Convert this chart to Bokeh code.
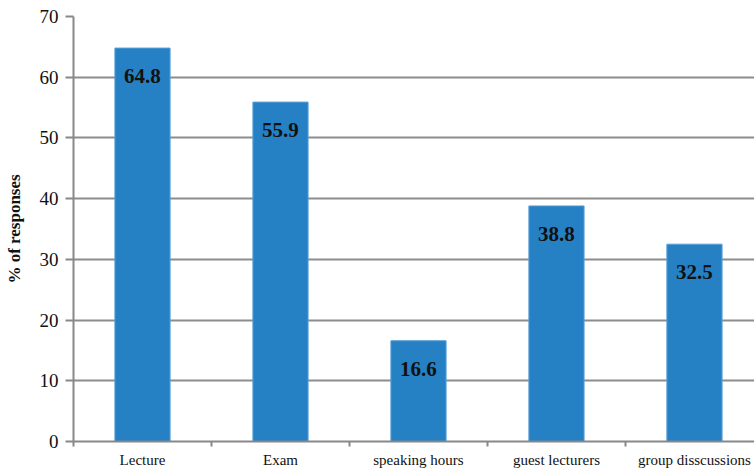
from bokeh.plotting import figure
from bokeh.models import FixedTicker, ColumnDataSource, LabelSet
from bokeh.embed import file_html
from bokeh.resources import INLINE

categories = ["Lecture", "Exam", "speaking hours", "guest lecturers", "group disscussions"]
values = [64.8, 55.9, 16.6, 38.8, 32.5]
y_ticks = [0, 10, 20, 30, 40, 50, 60, 70]

xs = [i + 0.5 for i in range(len(categories))]
src = ColumnDataSource(dict(x=xs, top=values, lab=[f"{v:.1f}" for v in values]))

p = figure(width=754, height=470, output_backend="svg", toolbar_location=None,
           x_range=(0, 4.935), y_range=(0, 70),
           min_border_left=73, min_border_right=0, min_border_top=16, min_border_bottom=29)
p.outline_line_color = None
p.background_fill_color = "white"
p.border_fill_color = "white"

p.vbar(x="x", top="top", bottom=0, width=0.4, source=src,
       fill_color="#2581C4", line_color="#5AA0D8", line_width=1)

labels = LabelSet(x="x", y="top", text="lab", source=src, y_offset=-28,
                  text_align="center", text_baseline="middle",
                  text_font="Liberation Serif", text_font_style="bold",
                  text_font_size="21px", text_color="#111111")
p.add_layout(labels)

# x axis
p.xaxis.ticker = FixedTicker(ticks=xs, minor_ticks=[0, 1, 2, 3, 4, 5])
p.xaxis.major_label_overrides = {x: c for x, c in zip(xs, categories)}
p.xaxis.major_tick_line_color = None
p.xaxis.major_tick_out = 0
p.xaxis.major_tick_in = 0
p.xaxis.minor_tick_line_color = "#888888"
p.xaxis.minor_tick_line_width = 2
p.xaxis.minor_tick_out = 5
p.xaxis.minor_tick_in = 0
p.xaxis.axis_line_color = "#888888"
p.xaxis.axis_line_width = 2
p.xaxis.major_label_text_font = "Liberation Serif"
p.xaxis.major_label_text_font_size = "15px"
p.xaxis.major_label_text_color = "#111111"
p.xaxis.major_label_standoff = 5

# y axis
p.yaxis.ticker = FixedTicker(ticks=y_ticks)
p.yaxis.minor_tick_line_color = None
p.yaxis.major_tick_line_color = "#888888"
p.yaxis.major_tick_line_width = 2
p.yaxis.major_tick_out = 8
p.yaxis.major_tick_in = 0
p.yaxis.axis_line_color = "#888888"
p.yaxis.axis_line_width = 2
p.yaxis.major_label_text_font = "Liberation Serif"
p.yaxis.major_label_text_font_size = "19px"
p.yaxis.major_label_text_color = "#111111"
p.yaxis.major_label_standoff = 7
p.yaxis.axis_label = "% of responses"
p.yaxis.axis_label_text_font = "Liberation Serif"
p.yaxis.axis_label_text_font_style = "bold"
p.yaxis.axis_label_text_font_size = "17px"
p.yaxis.axis_label_text_color = "#111111"
p.yaxis.axis_label_standoff = 13

p.xgrid.grid_line_color = None
p.ygrid.grid_line_color = "#8C8C8C"
p.ygrid.grid_line_width = 2
p.ygrid.ticker = FixedTicker(ticks=y_ticks)

open("out.html", "w").write(file_html(p, INLINE))
